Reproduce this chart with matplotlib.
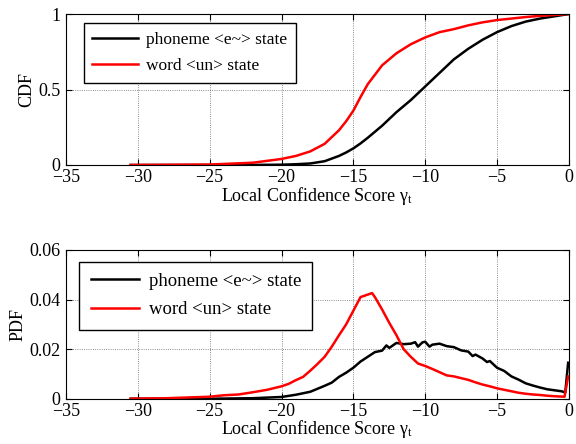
import matplotlib
matplotlib.use("Agg")
import matplotlib.pyplot as plt

plt.rcParams['font.family'] = ['Liberation Serif', 'DejaVu Serif']
plt.rcParams['mathtext.fontset'] = 'stix'

# x positions (local confidence score) where values were read
x_cdf = [-30.5, -25, -22, -20, -19, -18, -17, -16, -15.5, -15, -14.5, -14, -13, -12,
         -11, -10, -9, -8, -7, -6, -5, -4, -3, -2, -1, 0]
cdf_phoneme = [0, 0, 0.0005, 0.002, 0.005, 0.01, 0.025, 0.06, 0.083, 0.11, 0.143, 0.18, 0.26, 0.35,
               0.43, 0.52, 0.61, 0.70, 0.77, 0.83, 0.88, 0.92, 0.95, 0.97, 0.985, 1.0]
cdf_word = [0, 0.003, 0.015, 0.04, 0.06, 0.09, 0.14, 0.23, 0.29, 0.36, 0.45, 0.535, 0.66, 0.74,
            0.80, 0.845, 0.88, 0.90, 0.925, 0.945, 0.96, 0.97, 0.98, 0.988, 0.994, 1.0]

x_pdf_word = [-30.5, -28, -25, -24, -23, -22, -21, -20, -19.5, -19, -18.5, -18, -17.5, -17,
              -16.5, -16, -15.5, -15, -14.5, -14, -13.7, -13.5, -13, -12.5, -12, -11.5, -11,
              -10.5, -10, -9.5, -9, -8.5, -8, -7.5, -7, -6.5, -6, -5.5, -5, -4.5, -4, -3.5,
              -3, -2.5, -2, -1.5, -1, -0.3, -0.05]
pdf_word = [0, 0.0002, 0.0008, 0.0014, 0.0017, 0.0026, 0.0036, 0.005, 0.006, 0.0075, 0.0088,
            0.0113, 0.014, 0.0169, 0.021, 0.0256, 0.030, 0.0355, 0.041, 0.042, 0.0426, 0.041,
            0.036, 0.0306, 0.0256, 0.020, 0.0169, 0.0142, 0.0132, 0.012, 0.0107, 0.0094,
            0.009, 0.0083, 0.0076, 0.0066, 0.0057, 0.0050, 0.0042, 0.0036, 0.003, 0.0024,
            0.002, 0.0017, 0.0015, 0.0012, 0.001, 0.0008, 0.009]

x_pdf_phon = [-30.5, -25, -22, -20, -19, -18, -17.5, -17, -16.5, -16, -15.5, -15, -14.5, -14,
              -13.5, -13, -12.7, -12.5, -12, -11.5, -11, -10.7, -10.5, -10.2, -10, -9.7, -9.5,
              -9, -8.5, -8, -7.5, -7, -6.7, -6.5, -6, -5.7, -5.5, -5, -4.5, -4, -3.5, -3, -2.5,
              -2, -1.5, -1, -0.5, -0.25, -0.05]
pdf_phon = [0, 0, 0.0002, 0.0007, 0.0016, 0.0028, 0.004, 0.0052, 0.0065, 0.0088, 0.0105,
            0.0125, 0.015, 0.0169, 0.0188, 0.0194, 0.0215, 0.0205, 0.0225, 0.022, 0.0222,
            0.0228, 0.021, 0.0227, 0.023, 0.021, 0.0218, 0.0222, 0.0212, 0.0208, 0.0195,
            0.019, 0.0172, 0.0178, 0.0162, 0.0148, 0.0152, 0.0125, 0.0112, 0.009, 0.0077,
            0.0062, 0.0053, 0.0045, 0.0038, 0.0034, 0.003, 0.0025, 0.0145]

labels = ['phoneme <e~> state', 'word <un> state']
xlabel = r'Local Confidence Score $\mathregular{\gamma_t}$'

fig = plt.figure(figsize=(5.76, 4.44), dpi=100)
ax1 = fig.add_axes([0.1146, 0.6284, 0.873, 0.340])
ax2 = fig.add_axes([0.1146, 0.102, 0.873, 0.335])

ax1.plot(x_cdf, cdf_phoneme, color='black', lw=1.8, label=labels[0])
ax1.plot(x_cdf, cdf_word, color='red', lw=1.8, label=labels[1])
ax1.set_ylim(0, 1)
ax1.set_yticks([0, 0.5, 1])
ax1.set_yticklabels(['0', '0.5', '1'])
ax1.set_ylabel('CDF', fontsize=13, labelpad=2)
ax1.legend(loc='upper left', bbox_to_anchor=(0.018, 0.995), fancybox=False, edgecolor='black',
           framealpha=1, fontsize=12.5, handlelength=2.6, borderpad=0.5, labelspacing=0.55,
           handletextpad=0.5)

ax2.plot(x_pdf_phon, pdf_phon, color='black', lw=1.8, label=labels[0])
ax2.plot(x_pdf_word, pdf_word, color='red', lw=1.8, label=labels[1])
ax2.set_ylim(0, 0.06)
ax2.set_yticks([0, 0.02, 0.04, 0.06])
ax2.set_yticklabels(['0', '0.02', '0.04', '0.06'])
ax2.set_ylabel('PDF', fontsize=13, labelpad=2)
ax2.legend(loc='upper left', bbox_to_anchor=(0.008, 0.985), fancybox=False, edgecolor='black',
           framealpha=1, fontsize=13.5, handlelength=2.6, borderpad=0.6, labelspacing=0.6,
           handletextpad=0.5)

for ax in (ax1, ax2):
    ax.set_xlim(-35, 0)
    ax.set_xticks(range(-35, 1, 5))
    ax.set_xticklabels(['\u221235', '\u221230', '\u221225', '\u221220', '\u221215', '\u221210', '\u22125', '0'])
    ax.tick_params(direction='in', top=True, right=True, labelsize=13, length=4)
    ax.tick_params(axis='x', pad=3)
    ax.tick_params(axis='y', pad=4)
    ax.grid(True, linestyle=':', color='black', lw=0.6, alpha=0.6)
    ax.set_xlabel(xlabel, fontsize=13, labelpad=-1)
    for s in ax.spines.values():
        s.set_linewidth(0.8)

fig.savefig('out.png', dpi=100)
